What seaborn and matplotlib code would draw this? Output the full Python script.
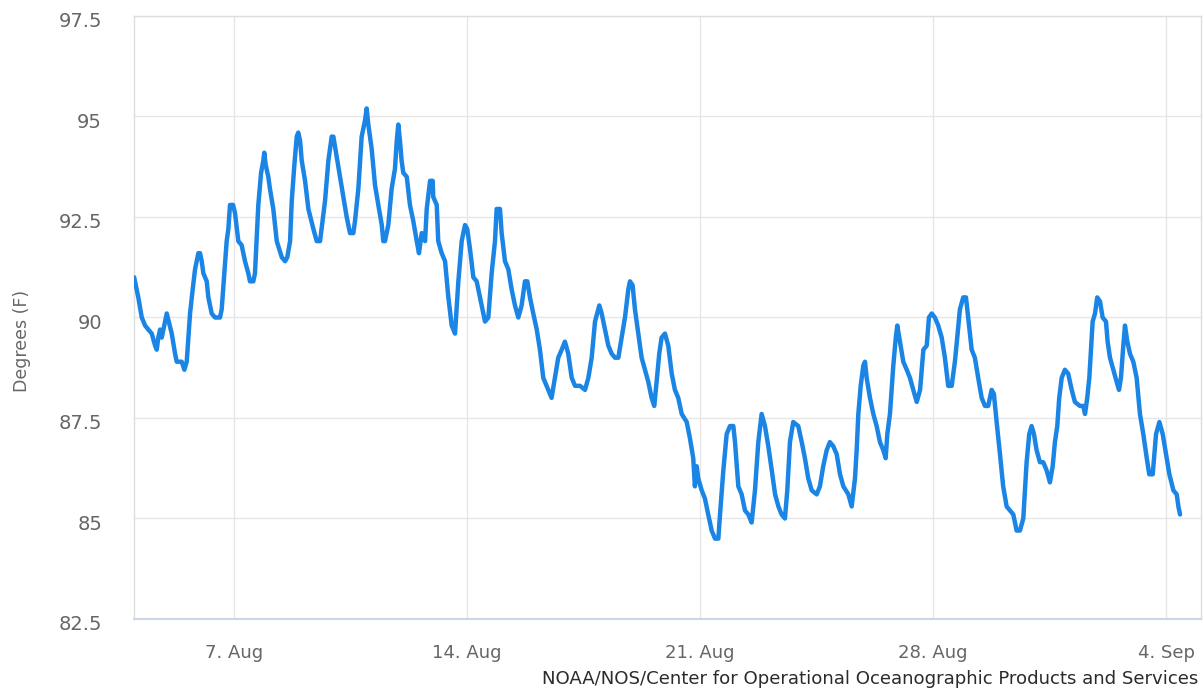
import matplotlib
matplotlib.use("Agg")
import matplotlib.pyplot as plt
import matplotlib.transforms as mtrans
import pandas as pd
import seaborn as sns

# Water temperature readings: hours since the first sample and degrees F
start = "2023-08-04 00:00"
hours = [
    0.0, 3.0, 5.5, 7.9, 10.2, 12.7, 15.1, 16.3, 17.4, 18.7, 19.9, 23.5,
    27.1, 29.5, 30.7, 34.3, 36.2, 37.9, 40.3, 42.2, 43.9, 46.3, 47.5,
    48.7, 49.9, 52.3, 53.5, 55.9, 58.3, 61.9, 63.1, 66.7, 67.9, 69.1, 71.3,
    72.7, 75.1, 77.5, 79.9, 82.3, 83.5, 85.9, 87.1, 89.5, 91.5, 93.1, 93.8, 94.8,
    96.7, 97.9, 100.3, 102.8, 106.4, 108.8, 110.4, 112.4, 113.6, 115.5, 117.2, 118.3, 119.6,
    120.8, 123.2, 125.6, 129.2, 131.6, 134.0, 137.6, 140.0, 142.4, 143.6,
    146.0, 148.4, 150.8, 153.2, 155.6, 158.0, 159.2, 161.6, 164.0, 166.4, 167.6,
    168.8, 171.2, 173.6, 176.0, 178.5, 179.6, 180.8, 183.2, 185.6, 188.0, 189.3, 190.4, 191.6,
    192.8, 194.0, 196.5, 198.8, 201.2, 203.7, 205.3, 207.3, 209.7, 210.9, 213.3, 215.2, 215.6,
    218.1, 219.2, 221.7, 224.1, 226.5, 228.9, 231.3, 233.7, 236.1, 238.5, 240.1,
    242.1, 244.5, 246.9, 250.5, 252.9, 255.3, 257.7, 260.1, 261.3, 263.7,
    264.9, 267.3, 269.7, 272.1, 274.5, 276.9, 279.3, 281.7, 283.4, 285.3, 287.7,
    290.2, 292.5, 294.9, 298.5, 300.9, 303.3, 305.7, 308.2, 310.5, 312.9,
    315.4, 317.8, 321.4, 325.0, 327.4, 329.8, 332.2, 335.3, 337.0,
    339.4, 341.8, 344.2, 346.6, 349.0, 351.4, 353.8, 356.2, 357.4, 359.3,
    361.0, 363.4, 365.8, 368.2, 370.6, 373.0, 374.9, 376.6, 378.5, 380.2, 382.6,
    385.0, 387.5, 389.8, 392.2, 394.7, 398.3, 400.6, 403.0, 404.2, 405.5, 406.6,
    409.1, 411.4, 413.8, 416.3, 418.7, 421.1, 422.3, 424.7, 427.1, 429.5, 431.9,
    433.1, 435.5, 437.9, 440.3, 442.7, 445.1, 447.5, 449.9, 452.3, 454.7,
    457.1, 459.6, 462.0, 464.4, 466.7, 469.1, 470.8, 472.7, 475.1, 478.7,
    481.2, 483.5, 485.9, 488.4, 492.0, 494.3, 496.7, 499.2, 501.5, 503.9,
    506.4, 508.8, 511.2, 514.8, 517.2, 519.6, 520.8, 522.0, 523.7, 525.6, 526.8,
    528.0, 530.4, 532.8, 535.2, 537.6, 540.0, 541.7, 542.9, 544.8, 547.2, 549.0, 550.1,
    552.0, 554.4, 556.9, 559.2, 561.6, 564.1, 566.5, 568.9, 571.3, 572.9, 574.9,
    577.2, 579.6, 582.1, 584.4, 586.8, 589.3, 591.6, 593.3, 595.2, 597.6, 599.6,
    601.2, 603.7, 606.0, 608.4, 610.9, 613.3, 615.6, 618.1, 619.7, 621.7,
    624.1, 626.4, 628.9, 631.3, 633.7, 636.1, 638.5, 640.9, 643.3, 645.2, 646.9,
    648.6, 650.5, 652.9, 655.3, 657.7, 660.1, 662.1, 663.7, 665.4, 666.8, 668.6, 670.9,
    673.3, 675.8, 678.1, 681.7, 684.1, 685.4, 687.0, 688.5, 689.5, 690.9, 692.6, 694.2,
    696.2, 698.1, 700.5, 701.7, 703.4, 705.8, 708.2, 709.9, 711.3, 713.0, 714.2, 715.9, 717.8,
    720.2, 722.6, 725.0, 727.4, 729.9, 731.7, 734.2, 736.6, 739.0, 741.4, 743.8,
    746.2, 749.1, 751.5, 752.7, 753.9,
]
temps = [
    91.0, 90.5, 90.0, 89.8, 89.7, 89.6, 89.3, 89.2, 89.5, 89.7, 89.5, 90.1,
    89.6, 89.1, 88.9, 88.9, 88.7, 88.9, 90.1, 90.7, 91.2, 91.6, 91.6,
    91.4, 91.1, 90.9, 90.5, 90.1, 90.0, 90.0, 90.2, 91.9, 92.2, 92.8, 92.8,
    92.6, 91.9, 91.8, 91.4, 91.1, 90.9, 90.9, 91.1, 92.8, 93.6, 93.9, 94.1, 93.8,
    93.5, 93.2, 92.7, 91.9, 91.5, 91.4, 91.5, 91.9, 92.9, 93.8, 94.5, 94.6, 94.4,
    93.9, 93.4, 92.7, 92.2, 91.9, 91.9, 92.9, 93.9, 94.5, 94.5,
    94.0, 93.5, 93.0, 92.5, 92.1, 92.1, 92.4, 93.2, 94.5, 94.9, 95.2,
    94.8, 94.2, 93.3, 92.8, 92.3, 91.9, 91.9, 92.3, 93.2, 93.7, 94.4, 94.8, 94.4,
    93.9, 93.6, 93.5, 92.8, 92.4, 91.9, 91.6, 92.1, 91.9, 92.7, 93.4, 93.4, 93.0,
    92.8, 91.9, 91.6, 91.4, 90.5, 89.8, 89.6, 90.9, 91.9, 92.3, 92.2,
    91.7, 91.0, 90.9, 90.3, 89.9, 90.0, 91.1, 91.9, 92.7, 92.7,
    92.1, 91.4, 91.2, 90.7, 90.3, 90.0, 90.3, 90.9, 90.9, 90.5, 90.1,
    89.7, 89.2, 88.5, 88.2, 88.0, 88.5, 89.0, 89.2, 89.4, 89.1,
    88.5, 88.3, 88.3, 88.2, 88.5, 89.0, 89.9, 90.3, 90.1,
    89.7, 89.3, 89.1, 89.0, 89.0, 89.5, 90.0, 90.7, 90.9, 90.8,
    90.2, 89.6, 89.0, 88.7, 88.4, 88.0, 87.8, 88.4, 89.1, 89.5, 89.6,
    89.3, 88.6, 88.2, 88.0, 87.6, 87.4, 87.0, 86.5, 85.8, 86.3, 86.0,
    85.7, 85.5, 85.1, 84.7, 84.5, 84.5, 85.1, 86.2, 87.1, 87.3, 87.3,
    86.9, 85.8, 85.6, 85.2, 85.1, 84.9, 85.7, 86.9, 87.6, 87.3,
    86.8, 86.2, 85.6, 85.3, 85.1, 85.0, 85.7, 86.9, 87.4, 87.3,
    86.9, 86.5, 86.0, 85.7, 85.6, 85.8, 86.3, 86.7, 86.9, 86.8,
    86.6, 86.1, 85.8, 85.6, 85.3, 86.0, 86.7, 87.6, 88.3, 88.8, 88.9,
    88.5, 88.0, 87.6, 87.3, 86.9, 86.7, 86.5, 87.1, 87.6, 88.8, 89.5, 89.8,
    89.4, 88.9, 88.7, 88.5, 88.2, 87.9, 88.2, 89.2, 89.3, 90.0, 90.1,
    90.0, 89.8, 89.5, 89.0, 88.3, 88.3, 88.9, 89.5, 90.2, 90.5, 90.5,
    90.0, 89.2, 89.0, 88.5, 88.0, 87.8, 87.8, 88.2, 88.1, 87.4,
    86.6, 85.8, 85.3, 85.2, 85.1, 84.7, 84.7, 85.0, 86.4, 87.1, 87.3,
    87.1, 86.7, 86.4, 86.4, 86.2, 85.9, 86.3, 86.9, 87.3, 88.0, 88.5, 88.7,
    88.6, 88.2, 87.9, 87.8, 87.8, 87.6, 88.0, 88.5, 89.1, 89.9, 90.1, 90.5,
    90.4, 90.0, 89.9, 89.4, 89.0, 88.7, 88.4, 88.2, 88.5, 89.3, 89.8, 89.4, 89.1,
    88.9, 88.5, 87.6, 87.1, 86.5, 86.1, 86.1, 87.1, 87.4, 87.1, 86.6,
    86.1, 85.7, 85.6, 85.3, 85.1,
]

tick_dates = ["2023-08-07", "2023-08-14", "2023-08-21", "2023-08-28", "2023-09-04"]
tick_labels = ["7. Aug", "14. Aug", "21. Aug", "28. Aug", "4. Sep"]
y_ticks = [82.5, 85, 87.5, 90, 92.5, 95, 97.5]
y_tick_labels = ["82.5", "85", "87.5", "90", "92.5", "95", "97.5"]
y_title = "Degrees (F)"
credit = "NOAA/NOS/Center for Operational Oceanographic Products and Services"

sns.set_style("white")
plt.rcParams["font.family"] = ["DejaVu Sans"]

t0 = pd.Timestamp(start)
df = pd.DataFrame({"time": t0 + pd.to_timedelta(hours, unit="h"), "temp": temps})

W, H = 1204, 692
fig = plt.figure(figsize=(W / 100, H / 100), dpi=100)
ax = fig.add_axes([134 / W, 1 - 619 / H, (1201 - 134) / W, (619 - 16) / H])

sns.lineplot(data=df, x="time", y="temp", ax=ax, color="#1b85e6", linewidth=3.2,
             solid_joinstyle="round", solid_capstyle="round", zorder=3)

ax.set_xlim(t0 - pd.Timedelta(hours=0.1), t0 + pd.Timedelta(hours=769))
ax.set_ylim(82.5, 97.5)

ax.set_xticks(pd.to_datetime(tick_dates))
ax.set_xticklabels(tick_labels)
ax.set_yticks(y_ticks)
ax.set_yticklabels(y_tick_labels)
ax.set_xlabel("")
ax.set_ylabel("")

ax.grid(True, color="#e6e6e6", linewidth=1.0, zorder=0)
ax.set_axisbelow(True)
for side in ("left", "top", "right"):
    ax.spines[side].set_color("#dddddd")
    ax.spines[side].set_linewidth(1.0)
ax.spines["bottom"].set_color("#ccd6eb")
ax.spines["bottom"].set_linewidth(1.5)

ax.tick_params(axis="x", direction="out", length=14, width=1, color="#ccd6eb",
               pad=4, labelsize=13, labelcolor="#666666")
ax.tick_params(axis="y", length=0, pad=23, labelsize=14, labelcolor="#666666")

shift = mtrans.ScaledTranslation(0, -4 / 100, fig.dpi_scale_trans)
for lbl in ax.get_yticklabels():
    lbl.set_transform(lbl.get_transform() + shift)

fig.text(22 / W, 1 - 341 / H, y_title, rotation=90, ha="center", va="center",
         fontsize=12.5, color="#666666")
fig.text(1198 / W, 1 - 679 / H, credit, ha="right", va="center",
         fontsize=13.1, color="#2b2b2b")

fig.savefig("out.png", dpi=100)
